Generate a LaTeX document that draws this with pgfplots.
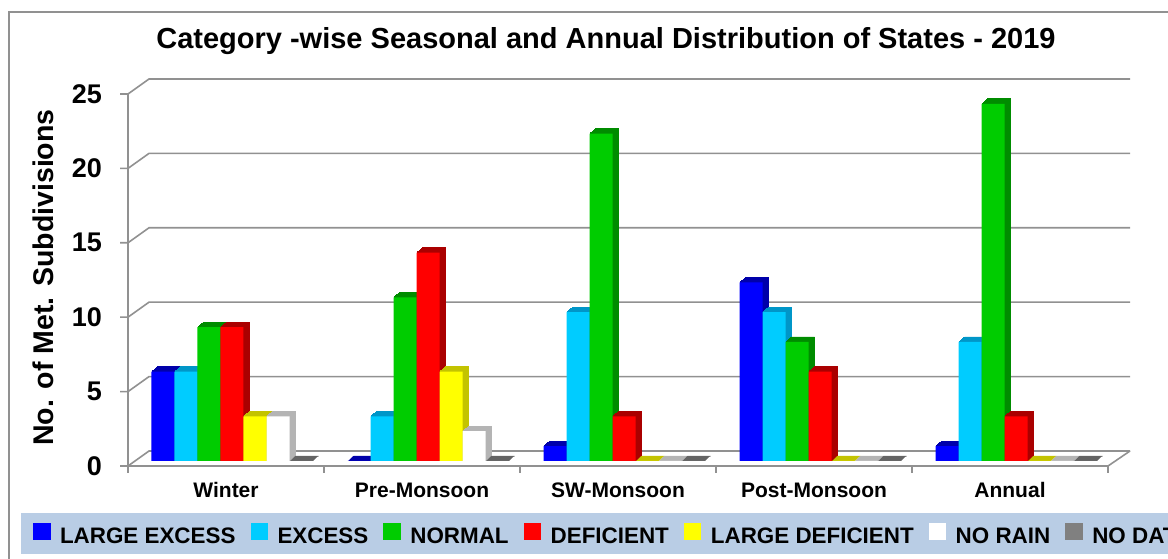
\documentclass[border=0pt]{standalone}
\usepackage{fontspec}
\setmainfont{Liberation Sans}
\usepackage{pgfplots}
\pgfplotsset{compat=1.18}
\usepackage{pgfplotstable}

\definecolor{cLE}{RGB}{0,0,255}     \definecolor{dLE}{RGB}{0,0,170}
\definecolor{cEX}{RGB}{0,204,255}   \definecolor{dEX}{RGB}{0,150,200}
\definecolor{cNO}{RGB}{0,204,0}     \definecolor{dNO}{RGB}{0,140,0}
\definecolor{cDE}{RGB}{255,0,0}     \definecolor{dDE}{RGB}{170,0,0}
\definecolor{cLD}{RGB}{255,255,0}   \definecolor{dLD}{RGB}{195,195,0}
\definecolor{cNR}{RGB}{255,255,255} \definecolor{dNR}{RGB}{180,180,180}
\definecolor{cND}{RGB}{128,128,128} \definecolor{dND}{RGB}{100,100,100}
\definecolor{gridc}{RGB}{145,145,145}
\definecolor{legbg}{RGB}{185,205,229}

\pgfplotstableread{
cat le ex no de ld nr nd
0.5 6  6  9  9  3 3 0
1.5 0  3  11 14 6 2 0
2.5 1  10 22 3  0 0 0
3.5 12 10 8  6  0 0 0
4.5 1  8  24 3  0 0 0
}\datatable

\newcommand{\shadow}[3]{%
  \pgfplotsinvokeforeach{1,2,3,4,5,6}{%
    \addplot[forget plot, ybar, bar width=23pt, bar shift=#3, fill=#2, draw=#2,
      line width=0.8pt, xshift=##1pt, yshift=##1*0.833pt]
      table[x=cat,y=#1]{\datatable};
  }%
}
\newcommand{\front}[3]{%
  \addplot[ybar, bar width=23pt, bar shift=#3, fill=#2, draw=none]
    table[x=cat,y=#1]{\datatable};
}

\begin{document}
\begin{tikzpicture}
\begin{scope}[x=1pt,y=1pt]
  % outer border
  \draw[gridc, line width=1.5pt] (9,-20) rectangle (1190,547);
  % legend band
  \fill[legbg] (21,5) rectangle (1190,46);
  % walls / grid
  \foreach \v in {0,5,...,25}{
    \draw[gridc, line width=1.6pt] (120,{93+14.88*\v}) -- (128,{93+14.88*\v}) -- (149,{108+14.88*\v}) -- (1130,{108+14.88*\v});
  }
  \draw[gridc, line width=1.6pt] (128,86) -- (128,{93+14.88*25});
  \draw[gridc, line width=1.6pt] (128,93) -- (1108,93) -- (1130,108);
  \foreach \i in {0,...,5}{
    \draw[gridc, line width=1.6pt] ({128+196*\i},93) -- ({128+196*\i},86);
  }
\end{scope}

\begin{axis}[
  at={(134pt,98pt)}, anchor=south west,
  scale only axis, width=980pt, height=372pt,
  xmin=0, xmax=5, ymin=0, ymax=25,
  clip=false,
  axis line style={draw=none},
  major tick length=0pt,
  ytick={0,5,10,15,20,25},
  xtick={0.5,1.5,2.5,3.5,4.5},
  xticklabels={Winter,Pre-Monsoon,SW-Monsoon,Post-Monsoon,Annual},
  /pgf/number format/assume math mode=true,
  yticklabel style={font=\fontsize{27}{30}\selectfont\bfseries, anchor=east, inner sep=0pt, xshift=-32pt, yshift=-5pt},
  xticklabel style={font=\fontsize{21}{24}\selectfont\bfseries, anchor=base, inner sep=0pt, xshift=-6pt, yshift=-37pt},
  title={Category -wise Seasonal and Annual Distribution of States - 2019},
  title style={font=\fontsize{29}{34}\selectfont\bfseries, at={(axis description cs:0.4816,1.0914)}, anchor=base, inner sep=0pt},
  ylabel={No. of Met. Subdivisions},
  ylabel style={font=\fontsize{28.5}{32}\selectfont\bfseries, at={(axis description cs:-0.0929,0.4933)}, anchor=center, rotate=0},
  legend columns=7,
  legend image code/.code={\fill[#1] (0pt,-4pt) rectangle (17.5pt,13pt);},
  legend style={at={(axis description cs:-0.10306,-0.1962)}, anchor=west, draw=none, fill=none,
    inner sep=0pt, outer sep=0pt, font=\fontsize{22.4}{24}\selectfont\bfseries,
    nodes={inner sep=0pt},
    /tikz/every odd column/.append style={column sep=9.5pt},
    /tikz/every even column/.append style={column sep=15pt}},
  legend cell align=left,
]
\shadow{le}{dLE}{-69pt}
\shadow{ex}{dEX}{-46pt}
\shadow{no}{dNO}{-23pt}
\shadow{de}{dDE}{0pt}
\shadow{ld}{dLD}{23pt}
\shadow{nr}{dNR}{46pt}
\shadow{nd}{dND}{69pt}
\front{le}{cLE}{-69pt}
\front{ex}{cEX}{-46pt}
\front{no}{cNO}{-23pt}
\front{de}{cDE}{0pt}
\front{ld}{cLD}{23pt}
\front{nr}{cNR}{46pt}
\front{nd}{cND}{69pt}
\legend{LARGE EXCESS,EXCESS,NORMAL,DEFICIENT,LARGE DEFICIENT,NO RAIN,NO DATA}
\end{axis}
\pgfresetboundingbox
\useasboundingbox (0,0) rectangle (1168pt,559pt);
\end{tikzpicture}
\end{document}
